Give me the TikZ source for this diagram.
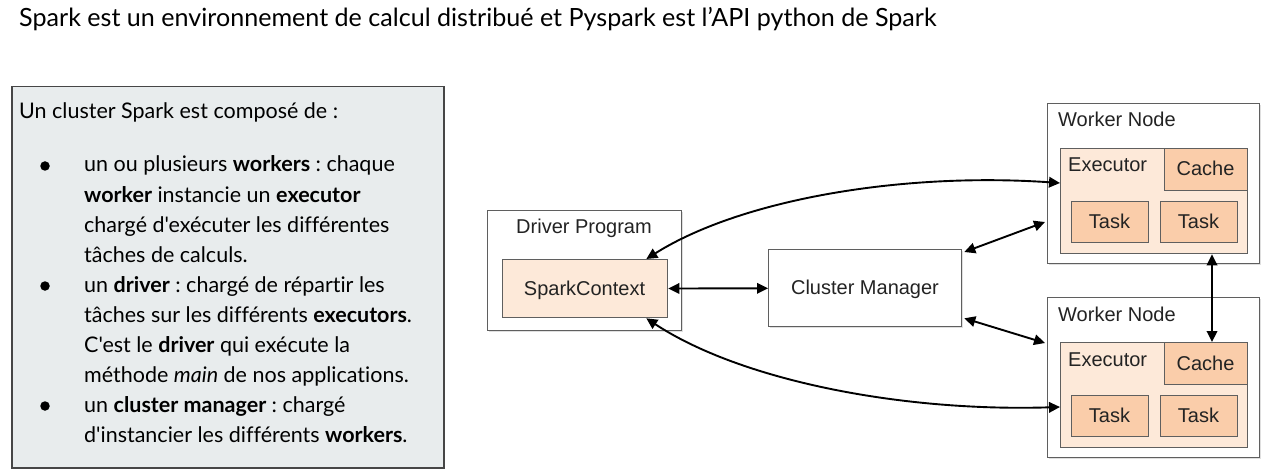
\documentclass[tikz,border=0pt]{standalone}
\usepackage{fontspec}
\setmainfont{Lato}[Ligatures={TeXOff,NoCommon}]
\newfontfamily\diagfont{Liberation Sans}
\usetikzlibrary{arrows.meta,shadows,calc}
\definecolor{panel}{RGB}{232,236,237}
\definecolor{panelborder}{RGB}{70,70,70}
\definecolor{lightpeach}{RGB}{253,233,217}
\definecolor{peach}{RGB}{250,205,170}
\definecolor{boxline}{RGB}{95,95,95}
\definecolor{dtext}{RGB}{35,35,35}
\frenchspacing
\begin{document}
\begin{tikzpicture}[x=1pt,y=-1pt,
  box/.style={draw=boxline, line width=1.3pt, fill=white, inner sep=0pt, anchor=north west},
  shbox/.style={box, drop shadow={shadow xshift=1.5pt, shadow yshift=-1.5pt, opacity=0.25}},
  dtxt/.style={font=\diagfont\fontsize{20}{24}\selectfont, text=dtext, inner sep=0pt},
  ltxt/.style={font=\fontsize{21.5}{25}\selectfont, inner sep=0pt, anchor=base west, text=black},
  bul/.style={circle, fill=black, inner sep=0pt, minimum size=9.5pt},
  arr/.style={{Triangle[length=11pt,width=10.5pt]}-{Triangle[length=11pt,width=10.5pt]}, line width=1.9pt, black}]
\useasboundingbox (0,0) rectangle (1276,473);
\fill[white] (0,0) rectangle (1276,473);

% title
\node[font=\fontsize{25.1}{29}\selectfont, inner sep=0pt, anchor=base west] (title) at (19,27) {Spark est un environnement de calcul distribué et Pyspark est l’API python de Spark};

% left panel
\node[draw=panelborder, line width=1.5pt, fill=panel, inner sep=0pt, anchor=north west, minimum width=432pt, minimum height=381pt] (panelbox) at (11,86) {};
\node[ltxt] (intro) at (19,119) {Un cluster Spark est composé de :};
\node[bul] (b1) at (45,166) {};
\node[bul] (b2) at (45,286) {};
\node[bul] (b3) at (45,406) {};
\node[ltxt] (l1) at (84,172) {un ou plusieurs \textbf{workers} : chaque};
\node[ltxt] (l2) at (84,202) {\textbf{worker} instancie un \textbf{executor}};
\node[ltxt] (l3) at (84,232) {chargé d'exécuter les différentes};
\node[ltxt] (l4) at (84,262) {tâches de calculs.};
\node[ltxt] (l5) at (84,292) {un \textbf{driver} : chargé de répartir les};
\node[ltxt] (l6) at (84,322) {tâches sur les différents \textbf{executors}.};
\node[ltxt] (l7) at (84,352) {C'est le \textbf{driver} qui exécute la};
\node[ltxt] (l8) at (84,382) {méthode \textit{main} de nos applications.};
\node[ltxt] (l9) at (84,412) {un \textbf{cluster manager} : chargé};
\node[ltxt] (l10) at (84,442) {d'instancier les différents \textbf{workers}.};

% driver
\node[shbox, minimum width=194pt, minimum height=120pt] (drv) at (487,210) {};
\node[dtxt, anchor=base] (drvlab) at (584,233) {Driver Program};
\node[box, fill=lightpeach, minimum width=165pt, minimum height=58pt] (sc) at (502,259) {};
\node[dtxt, anchor=base] (sclab) at (584.5,295) {SparkContext};

% cluster manager
\node[shbox, minimum width=193pt, minimum height=77pt] (cm) at (768,249) {};
\node[dtxt, anchor=base] (cmlab) at (865,294) {Cluster Manager};

% worker 1
\node[shbox, minimum width=212pt, minimum height=160pt] (w1) at (1047,103) {};
\node[dtxt, anchor=base west] (w1lab) at (1058,127) {Worker Node};
\node[box, fill=lightpeach, minimum width=187pt, minimum height=105pt] (e1) at (1060,148) {};
\node[dtxt, anchor=base west] (e1lab) at (1068,172) {Executor};
\node[box, fill=peach, minimum width=83pt, minimum height=42pt] (c1) at (1164,148) {};
\node[dtxt, anchor=base] (c1lab) at (1205.5,176) {Cache};
\node[box, fill=peach, minimum width=77pt, minimum height=41pt] (t11) at (1071,201) {};
\node[dtxt, anchor=base] (t11lab) at (1109.5,228) {Task};
\node[box, fill=peach, minimum width=77pt, minimum height=41pt] (t12) at (1160,201) {};
\node[dtxt, anchor=base] (t12lab) at (1198.5,228) {Task};

% worker 2
\node[shbox, minimum width=212pt, minimum height=160pt] (w2) at (1047,297) {};
\node[dtxt, anchor=base west] (w2lab) at (1058,321) {Worker Node};
\node[box, fill=lightpeach, minimum width=187pt, minimum height=105pt] (e2) at (1060,342) {};
\node[dtxt, anchor=base west] (e2lab) at (1068,366) {Executor};
\node[box, fill=peach, minimum width=83pt, minimum height=42pt] (c2) at (1164,342) {};
\node[dtxt, anchor=base] (c2lab) at (1205.5,370) {Cache};
\node[box, fill=peach, minimum width=77pt, minimum height=41pt] (t21) at (1071,395) {};
\node[dtxt, anchor=base] (t21lab) at (1109.5,422) {Task};
\node[box, fill=peach, minimum width=77pt, minimum height=41pt] (t22) at (1160,395) {};
\node[dtxt, anchor=base] (t22lab) at (1198.5,422) {Task};

% connectors
\draw[arr] (sc) -- (cm);
\draw[arr] ($(cm.north east)+(2,3)$) -- ($(w1.north west)+(-2,119)$);
\draw[arr] ($(cm.south east)+(2,-9)$) -- ($(w2.north west)+(-2,46)$);
\draw[arr] ($(sc.north east)+(-22,0)$) .. controls (740,200) and (900,172) .. ($(e1.north west)+(0,35)$);
\draw[arr] ($(sc.south east)+(-22,0)$) .. controls (740,380) and (900,412) .. ($(e2.north west)+(0,65)$);
\draw[arr] ($(e1.south west)+(152,0)$) -- ($(e2.north west)+(152,0)$);
\end{tikzpicture}
\end{document}
